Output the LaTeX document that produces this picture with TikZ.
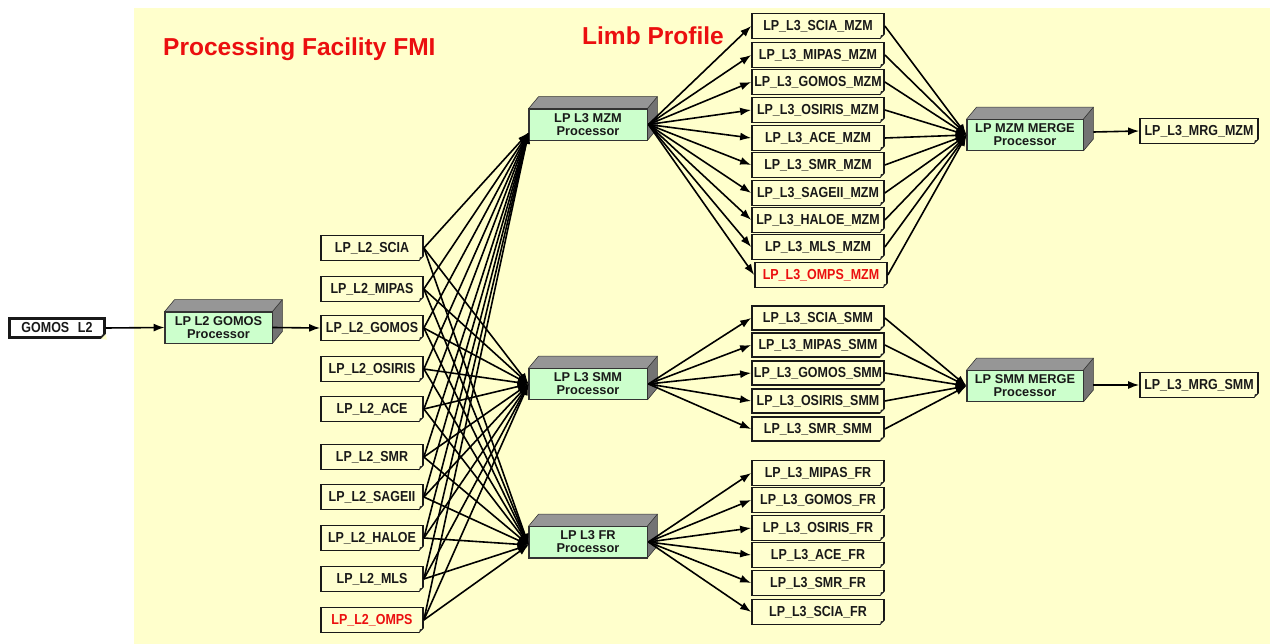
\documentclass[tikz,border=0pt]{standalone}
\usepackage{fontspec}
\setmainfont{Liberation Sans}
\newfontfamily\docfont{Liberation Sans}[FakeStretch=0.86]
\usetikzlibrary{arrows.meta,calc}
\definecolor{bg}{RGB}{255,255,204}
\definecolor{docfill}{RGB}{255,255,208}
\definecolor{procfill}{RGB}{204,255,204}
\definecolor{topg}{RGB}{150,150,150}
\definecolor{sideg}{RGB}{115,115,115}
\definecolor{tred}{RGB}{235,15,15}
\definecolor{txt}{RGB}{25,25,25}
\tikzset{
  doc/.style={draw=black!90, line width=1.7pt, fill=docfill, inner sep=0pt,
    minimum height=25pt, text=txt, font=\docfont\bfseries\fontsize{14.5}{15}\selectfont},
  proc/.style={draw=black!80, line width=0.8pt, fill=procfill, inner sep=0pt,
    minimum height=31pt, align=center, text=txt,
    font=\bfseries\fontsize{12.8}{13}\selectfont},
  arr/.style={-{Latex[length=11pt,width=8pt]}, line width=1.6pt, black},
  ttl/.style={text=tred, font=\bfseries\fontsize{24.5}{26}\selectfont, inner sep=0pt}
}
\newcommand\procbox[5]{%
  \node[proc, minimum width=#5] (#1) at (#2,#3) {#4};
  \fill[topg] (#1.north west) -- ++(10,-12) -- ($(#1.north east)+(10,-12)$) -- (#1.north east) -- cycle;
  \fill[sideg] (#1.north east) -- ++(10,-12) -- ($(#1.south east)+(10,-12)$) -- (#1.south east) -- cycle;
  \draw[black!80, line width=0.6pt] (#1.north west) -- ++(10,-12) -- ($(#1.north east)+(10,-12)$) -- ($(#1.south east)+(10,-12)$) -- (#1.south east);
  \draw[black!80, line width=0.6pt] (#1.north east) -- ++(10,-12);
  \draw[black!80, line width=0.8pt] (#1.south west) rectangle (#1.north east);
}
\newcommand\fold[1]{%
  \fill[bg] ([xshift=-5pt]#1.south east) -- ([xshift=1pt,yshift=-1pt]#1.south east) -- ([yshift=5pt]#1.south east) -- cycle;
  \fill[black!85] ([xshift=-5pt]#1.south east) -- ([yshift=5pt]#1.south east) -- ([xshift=-4pt,yshift=4pt]#1.south east) -- cycle;
}
\begin{document}
\begin{tikzpicture}[x=1pt,y=-1pt]
\useasboundingbox (0,0) rectangle (1270,644);
\fill[bg] (134,8) rectangle (1270,644);

\node[ttl, anchor=base west] (t1) at (163,56) {Processing Facility FMI};
\node[ttl, anchor=base west] (t2) at (582,45) {Limb Profile};

% input
\node[doc, fill=white, line width=2.6pt, minimum width=95pt, minimum height=19pt,
  font=\docfont\bfseries\fontsize{14.5}{15}\selectfont] (gin) at (57,328) {GOMOS\hspace{0.6em}L2};
\fold{gin}

\procbox{pg}{218.5}{327.5}{LP L2 GOMOS\\Processor}{107pt}
\procbox{pmzm}{588}{124.5}{LP L3 MZM\\Processor}{118pt}
\procbox{psmm}{588}{384}{LP L3 SMM\\Processor}{118pt}
\procbox{pfr}{588}{542}{LP L3 FR\\Processor}{118pt}
\procbox{mmzm}{1025}{135}{LP MZM MERGE\\Processor}{116pt}
\procbox{msmm}{1025}{386}{LP SMM MERGE\\Processor}{116pt}

% L2 products
\foreach \n/\y in {SCIA/248, MIPAS/289, GOMOS/328, OSIRIS/369, ACE/409, SMR/457, SAGEII/497, HALOE/538, MLS/579}{
  \node[doc, minimum width=102pt] (l2\n) at (372,\y) {LP\_L2\_\n};
  \fold{l2\n}
}
\node[doc, minimum width=102pt, text=tred] (l2OMPS) at (372,620) {LP\_L2\_OMPS};
\fold{l2OMPS}

% MZM products
\foreach \n/\y in {SCIA/26, MIPAS/55, GOMOS/82, OSIRIS/110, ACE/138, SMR/165, SAGEII/193, HALOE/220, MLS/247}{
  \node[doc, minimum width=132pt] (mz\n) at (818,\y) {LP\_L3\_\n\_MZM};
  \fold{mz\n}
}
\node[doc, minimum width=132pt, text=tred] (mzOMPS) at (821,275) {LP\_L3\_OMPS\_MZM};
\fold{mzOMPS}

% SMM products
\foreach \n/\y in {SCIA/318, MIPAS/345, GOMOS/373, OSIRIS/401, SMR/429}{
  \node[doc, minimum width=132pt, minimum height=24pt] (sm\n) at (818,\y) {LP\_L3\_\n\_SMM};
  \fold{sm\n}
}

% FR products
\foreach \n/\y in {MIPAS/473, GOMOS/500, OSIRIS/528, ACE/555, SMR/583, SCIA/612}{
  \node[doc, minimum width=132pt] (fr\n) at (818,\y) {LP\_L3\_\n\_FR};
  \fold{fr\n}
}

% merged outputs
\node[doc, minimum width=118pt] (omzm) at (1199,131) {LP\_L3\_MRG\_MZM};
\fold{omzm}
\node[doc, minimum width=118pt] (osmm) at (1199,385) {LP\_L3\_MRG\_SMM};
\fold{osmm}

% connection points
\coordinate (inmzm) at ($(pmzm.west)+(0,8)$);
\coordinate (insmm) at ($(psmm.west)+(0,0)$);
\coordinate (infr) at ($(pfr.west)+(0,3)$);
\coordinate (outmzm) at ($(pmzm.east)+(1,0)$);
\coordinate (outsmm) at ($(psmm.east)+(1,0)$);
\coordinate (outfr) at ($(pfr.east)+(1,0)$);

% arrows
\draw[arr] (gin.east) -- (pg.west);
\draw[arr] ($(pg.east)+(0,0)$) -- (l2GOMOS.west);

\foreach \n in {SCIA, MIPAS, GOMOS, OSIRIS, ACE, SMR, SAGEII, HALOE, MLS, OMPS}{
  \draw[arr] (l2\n.east) -- (inmzm);
  \draw[arr] (l2\n.east) -- (insmm);
  \draw[arr] (l2\n.east) -- (infr);
  \draw[arr] (outmzm) -- (mz\n.west);
  \draw[arr] (mz\n.east) -- (mmzm.west);
}
\foreach \n in {SCIA, MIPAS, GOMOS, OSIRIS, SMR}{
  \draw[arr] (outsmm) -- (sm\n.west);
  \draw[arr] (sm\n.east) -- (msmm.west);
}
\foreach \n in {MIPAS, GOMOS, OSIRIS, ACE, SMR, SCIA}{
  \draw[arr] (outfr) -- (fr\n.west);
}
\draw[arr] ($(mmzm.east)+(10,-3)$) -- (omzm.west);
\draw[arr] ($(msmm.east)+(10,-1)$) -- (osmm.west);
\end{tikzpicture}
\end{document}
